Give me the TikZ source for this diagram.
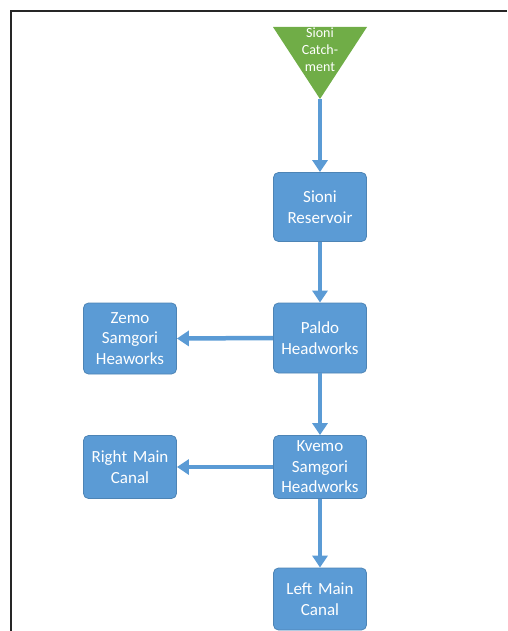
\documentclass[tikz,border=0pt]{standalone}
\usepackage{fontspec}
\setmainfont{Carlito}
\usetikzlibrary{arrows.meta,shapes.geometric}
\definecolor{boxblue}{HTML}{5B9BD5}
\definecolor{catgreen}{HTML}{70AD47}
\tikzset{
  flowbox/.style={draw=boxblue!85!black, line width=0.8pt, fill=boxblue, rounded corners=5pt,
    minimum width=93pt, text width=90pt, align=center, text=white, font=\fontsize{17}{20.5}\selectfont, inner sep=1pt},
  flowarrow/.style={draw=boxblue, line width=4.5pt, -{Triangle[width=15pt,length=12pt]}},
}
\begin{document}
\begin{tikzpicture}[x=1pt,y=-1pt]
\useasboundingbox (0,0) rectangle (507,631);
\draw[line width=2.2pt, black!85] (507,11) -- (11,11) -- (11,631);
% catchment triangle
\fill[catgreen] (273,27) -- (367,27) -- (320,99) -- cycle;
\coordinate (apex) at (320,99);
\node[text=white, font=\fontsize{14}{17}\selectfont, align=center] (catch) at (320,50) {Sioni\\Catch-\\ment};
\node[flowbox, minimum height=69pt] (res) at (320,207) {Sioni\\Reservoir};
\node[flowbox, minimum height=70pt] (paldo) at (320,338) {Paldo\\Headworks};
\node[flowbox, minimum height=71pt] (zemo) at (130,338.5) {Zemo\\Samgori\\Heaworks};
\node[flowbox, minimum height=63pt] (kvemo) at (320,467) {Kvemo\\Samgori\\Headworks};
\node[flowbox, minimum height=63pt] (right) at (130,467) {Right Main\\Canal};
\node[flowbox, minimum height=62pt] (left) at (320,599) {Left Main\\Canal};
\draw[flowarrow] (apex) -- (res.north);
\draw[flowarrow] (res.south) -- (paldo.north);
\draw[flowarrow] (paldo.west) -- (zemo.east);
\draw[flowarrow] (paldo.south) -- (kvemo.north);
\draw[flowarrow] (kvemo.west) -- (right.east);
\draw[flowarrow] (kvemo.south) -- (left.north);
\end{tikzpicture}
\end{document}
